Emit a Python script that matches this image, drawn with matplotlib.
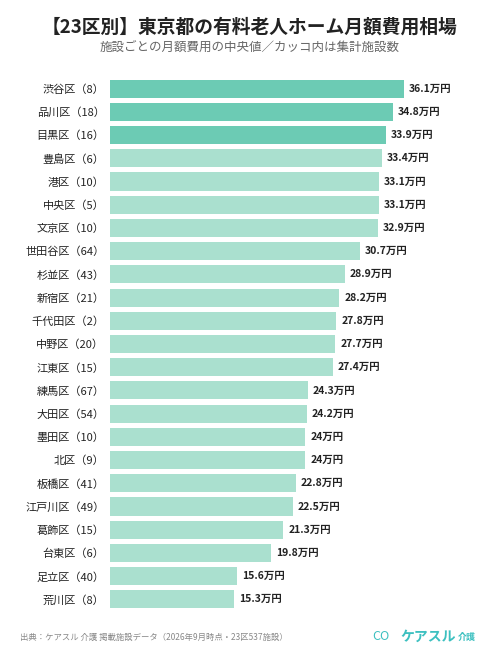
import matplotlib
matplotlib.use("Agg")
import matplotlib.pyplot as plt

plt.rcParams['font.family'] = ['Noto Sans CJK JP', 'DejaVu Sans']

wards = ["渋谷区","品川区","目黒区","豊島区","港区","中央区","文京区","世田谷区","杉並区","新宿区","千代田区","中野区","江東区","練馬区","大田区","墨田区","北区","板橋区","江戸川区","葛飾区","台東区","足立区","荒川区"]
counts = [8,18,16,6,10,5,10,64,43,21,2,20,15,67,54,10,9,41,49,15,6,40,8]
values = [36.1,34.8,33.9,33.4,33.1,33.1,32.9,30.7,28.9,28.2,27.8,27.7,27.4,24.3,24.2,24.0,24.0,22.8,22.5,21.3,19.8,15.6,15.3]
labels = ["36.1万円","34.8万円","33.9万円","33.4万円","33.1万円","33.1万円","32.9万円","30.7万円","28.9万円","28.2万円","27.8万円","27.7万円","27.4万円","24.3万円","24.2万円","24万円","24万円","22.8万円","22.5万円","21.3万円","19.8万円","15.6万円","15.3万円"]

fig = plt.figure(figsize=(5, 6.67), dpi=100)
ax = fig.add_axes([0.22, 1-611/667, 0.76, (611-77)/667])
colors = ["#6ccbb4" if i < 3 else "#aae0cf" for i in range(len(values))]
y = list(range(len(values)))
ax.barh(y, values, height=0.78, color=colors)
ax.set_ylim(len(values)-0.5, -0.5)
ax.set_xlim(0, 46.7)
for i, (v, l) in enumerate(zip(values, labels)):
    ax.text(v + 0.6, i, l, va='center', ha='left', fontsize=7.5, fontweight='bold', color='#222222')
ax.set_yticks(y)
ax.set_yticklabels([f"{w}（{c}）" for w, c in zip(wards, counts)], fontsize=8, color='#222222')
ax.tick_params(axis='y', length=0, pad=4)
ax.set_xticks([])
for s in ax.spines.values():
    s.set_visible(False)

fig.text(0.5, 1-27/667, "【23区別】東京都の有料老人ホーム月額費用相場", ha='center', va='center', fontsize=13.5, fontweight='bold', color='#222222')
fig.text(0.5, 1-47/667, "施設ごとの月額費用の中央値／カッコ内は集計施設数", ha='center', va='center', fontsize=9, color='#666666')
fig.text(0.04, 1-637/667, "出典：ケアスル 介護 掲載施設データ（2026年9月時点・23区537施設）", ha='left', va='center', fontsize=6, color='#888888')
fig.text(0.745, 1-637/667, "CO", ha='left', va='center', fontsize=9, color='#3cc0c0')
fig.text(0.8, 1-637/667, "ケアスル", ha='left', va='center', fontsize=10, fontweight='bold', color='#3cc0c0')
fig.text(0.915, 1-637/667, "介護", ha='left', va='center', fontsize=6.5, fontweight='bold', color='#3cc0c0')
fig.savefig("out.png", dpi=100, facecolor='white')
